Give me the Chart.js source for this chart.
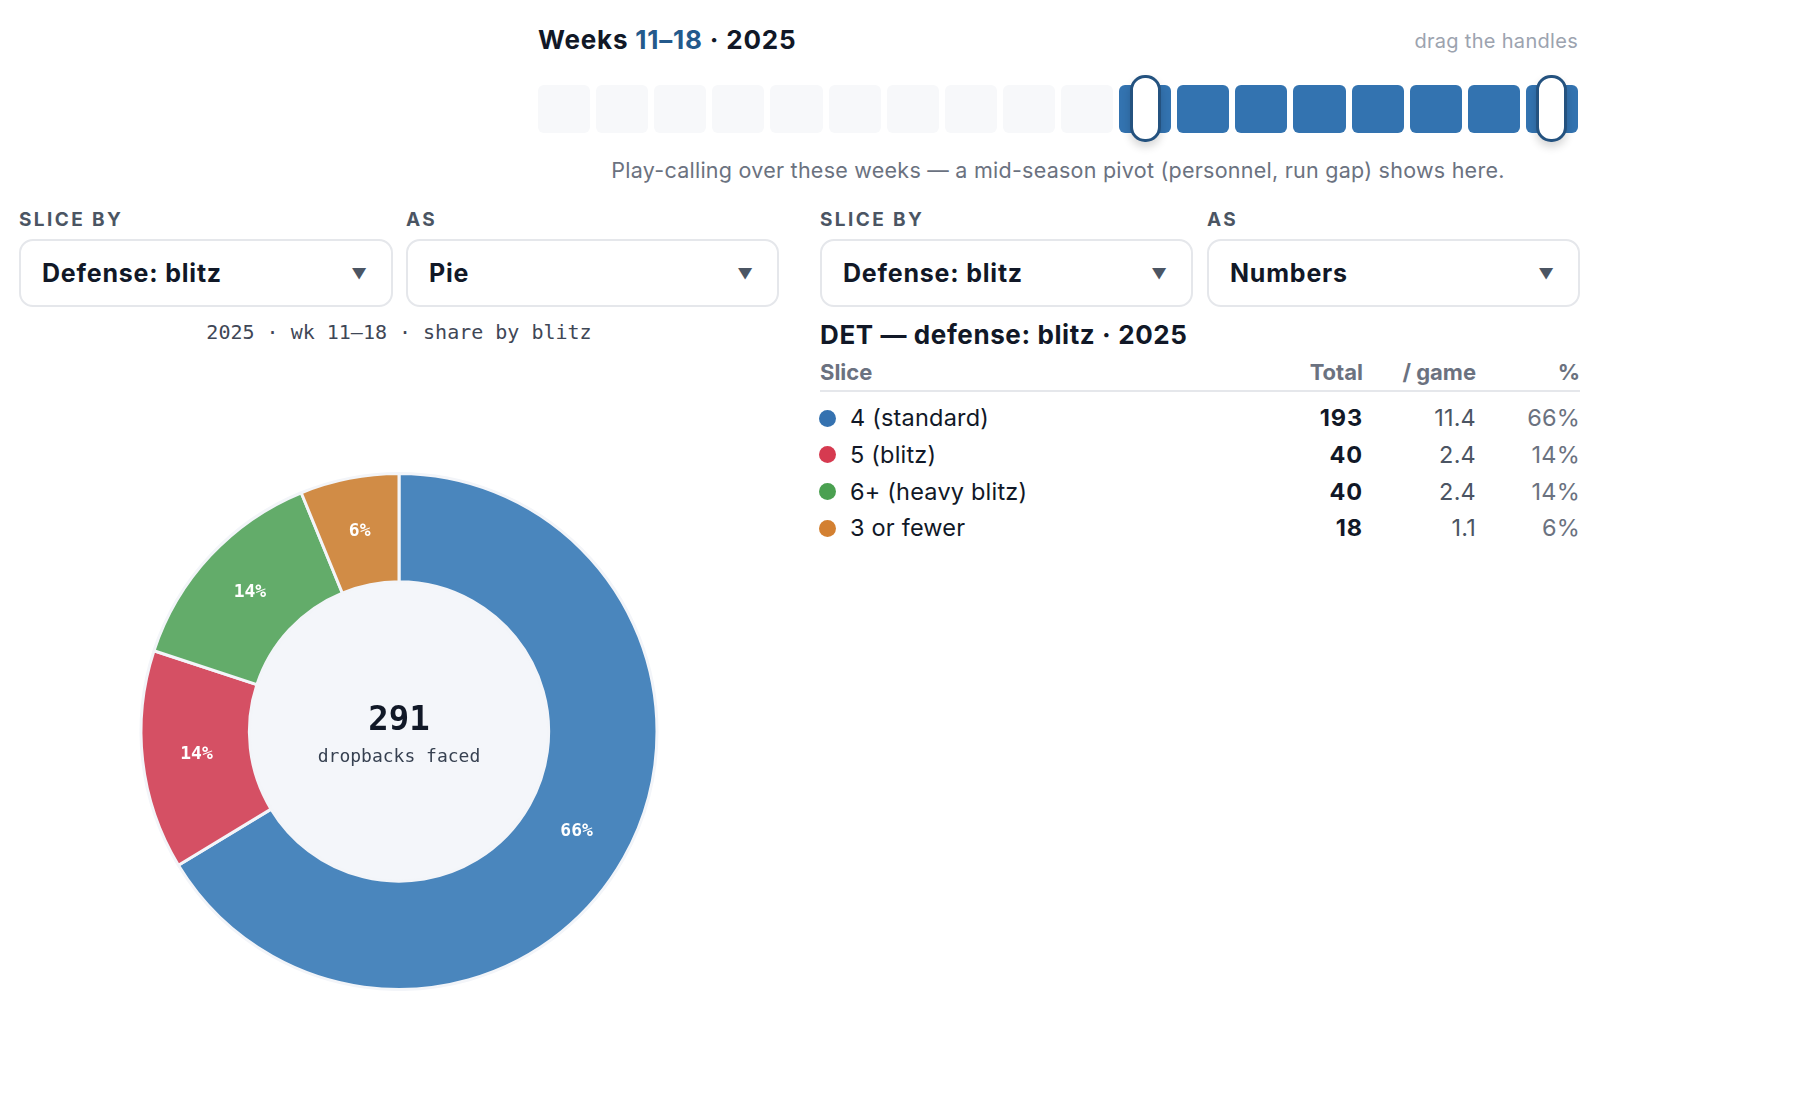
<!DOCTYPE html>
<html><head><meta charset="utf-8">
<script src="https://cdn.jsdelivr.net/npm/chart.js@4.4.1/dist/chart.umd.min.js"></script>
<style>
html,body{margin:0;padding:0;background:#fff;width:1794px;height:1108px;overflow:hidden;font-family:Inter,"Noto Sans",sans-serif;}
.abs{position:absolute;white-space:nowrap;}
#title{left:538px;top:26.5px;font:700 26px/26px Inter,sans-serif;letter-spacing:0.8px;color:#111827;}
#title .hl{color:#245a8c;}
#drag{right:216px;top:31px;font:400 20px/20px Inter,sans-serif;letter-spacing:0.3px;color:#9ca3af;}
#tiles{left:538px;top:85px;width:1040px;height:48px;display:flex;gap:6px;}
.tile{flex:1;border-radius:6px;background:#f7f8fa;}
.tile.on{background:#3373b0;}
.handle{position:absolute;top:75px;width:31px;height:67px;box-sizing:border-box;border:3.5px solid #24527f;border-radius:15px;background:#fff;box-shadow:0 5px 9px rgba(0,0,0,0.16);}
#caption{left:538px;width:1040px;text-align:center;top:159.5px;font:400 21.5px/21.5px Inter,sans-serif;letter-spacing:0.25px;color:#6b7280;}
.lab{top:209.5px;font:700 19px/19px Inter,sans-serif;letter-spacing:2.4px;color:#4b5563;}
.sel{top:239px;height:68px;box-sizing:border-box;border:2px solid #e5e7eb;border-radius:14px;font:700 25px/25px Inter,sans-serif;letter-spacing:0.8px;color:#111827;display:flex;align-items:center;padding-left:21px;}
.sel .arr{position:absolute;right:24px;top:50%;transform:translateY(-50%);font-size:15px;letter-spacing:0;color:#4b5563;}
#sub{left:19px;width:760px;text-align:center;top:322px;font:400 20px/20px "DejaVu Sans Mono",monospace;color:#3f4756;}
#chartbox{position:absolute;left:19px;top:472px;width:760px;height:519px;}
#ttitle{left:820px;top:322px;font:700 26px/26px Inter,sans-serif;letter-spacing:0.6px;color:#111827;}
.hdr{top:361px;font:700 22px/22px Inter,sans-serif;color:#6b7280;}
#hline{position:absolute;left:820px;top:390px;width:760px;height:2px;background:#e5e7eb;}
.cell{font:400 23.5px/23.5px Inter,sans-serif;letter-spacing:0.2px;}
.dot{position:absolute;width:17px;height:17px;border-radius:50%;}
</style></head><body>
<div id="title" class="abs">Weeks <span class="hl">11–18</span> · 2025</div>
<div id="drag" class="abs">drag the handles</div>
<div id="tiles" class="abs"></div>
<div id="caption" class="abs">Play-calling over these weeks — a mid-season pivot (personnel, run gap) shows here.</div>

<div class="abs lab" style="left:19px">SLICE BY</div>
<div class="abs lab" style="left:406px">AS</div>
<div class="abs lab" style="left:820px">SLICE BY</div>
<div class="abs lab" style="left:1207px">AS</div>

<div class="abs sel" style="left:19px;width:374px">Defense: blitz<span class="arr">▼</span></div>
<div class="abs sel" style="left:406px;width:373px">Pie<span class="arr">▼</span></div>
<div class="abs sel" style="left:820px;width:373px">Defense: blitz<span class="arr">▼</span></div>
<div class="abs sel" style="left:1207px;width:373px">Numbers<span class="arr">▼</span></div>

<div id="sub" class="abs">2025 · wk 11–18 · share by blitz</div>
<div id="chartbox"><canvas id="c"></canvas></div>

<div id="ttitle" class="abs">DET — defense: blitz · 2025</div>
<div class="abs hdr" style="left:820px">Slice</div>
<div class="abs hdr" style="right:431px">Total</div>
<div class="abs hdr" style="right:318px">/ game</div>
<div class="abs hdr" style="right:214px">%</div>
<div id="hline"></div>
<div id="rows"></div>

<script>
// ---- data ----
const weeks = [1,2,3,4,5,6,7,8,9,10,11,12,13,14,15,16,17,18];
const weekStart = 11;
const weekEnd = 18;
const categories = ["4 (standard)", "5 (blitz)", "6+ (heavy blitz)", "3 or fewer"];
const totals = [193, 40, 40, 18];
const perGame = ["11.4", "2.4", "2.4", "1.1"];
const pctLabels = [66, 14, 14, 6];
const centerTotal = 291;
const centerLabel = "dropbacks faced";
const pieColors = ["#4a86bd", "#d55064", "#63ac6a", "#d18c46"];
const dotColors = ["#3572b0", "#d63a50", "#4aa050", "#d38031"];

// ---- slider ----
const tilesEl = document.getElementById('tiles');
weeks.forEach(w => {
  const t = document.createElement('div');
  t.className = 'tile' + (w >= weekStart && w <= weekEnd ? ' on' : '');
  tilesEl.appendChild(t);
});
const pitch = (1040 + 6) / weeks.length;
[weekStart, weekEnd].forEach(w => {
  const h = document.createElement('div');
  h.className = 'handle';
  const cx = 538 + (w - 1) * pitch + (pitch - 6) / 2;
  h.style.left = (cx - 15.5) + 'px';
  document.body.appendChild(h);
});

// ---- table ----
const rowsEl = document.getElementById('rows');
categories.forEach((c, i) => {
  const cy = 418 + i * 36.7;
  const top = cy - 11.75;
  const dot = document.createElement('div');
  dot.className = 'dot';
  dot.style.left = '819px'; dot.style.top = (cy - 8.5) + 'px';
  dot.style.background = dotColors[i];
  rowsEl.appendChild(dot);
  const mk = (txt, style) => {
    const d = document.createElement('div');
    d.className = 'abs cell';
    d.textContent = txt;
    d.style.cssText += style + ';top:' + top + 'px';
    rowsEl.appendChild(d);
  };
  mk(c, 'left:850px;color:#111827');
  mk(String(totals[i]), 'right:431px;font-weight:700;letter-spacing:0.9px;color:#111827');
  mk(perGame[i], 'right:318px;color:#4b5563');
  mk(pctLabels[i] + '%', 'right:214px;color:#6b7280');
});

// ---- doughnut ----
const centerPlugin = {
  id: 'centerPlugin',
  beforeDatasetsDraw(chart) {
    const a = chart.getDatasetMeta(0).data[0];
    if (!a) return;
    const ctx = chart.ctx;
    ctx.save();
    ctx.beginPath();
    ctx.arc(a.x, a.y, a.innerRadius, 0, Math.PI * 2);
    ctx.fillStyle = '#f4f6fa';
    ctx.fill();
    ctx.restore();
  },
  afterDatasetsDraw(chart) {
    const meta = chart.getDatasetMeta(0);
    const ctx = chart.ctx;
    ctx.save();
    ctx.textAlign = 'center';
    ctx.textBaseline = 'middle';
    ctx.fillStyle = '#ffffff';
    ctx.font = 'bold 18px "DejaVu Sans Mono", monospace';
    meta.data.forEach((arc, i) => {
      const p = arc.tooltipPosition(true);
      ctx.fillText(pctLabels[i] + '%', p.x, p.y);
    });
    const a = meta.data[0];
    ctx.fillStyle = '#111827';
    ctx.font = 'bold 34px "DejaVu Sans Mono", monospace';
    ctx.fillText(String(centerTotal), a.x, a.y - 10);
    ctx.fillStyle = '#374151';
    ctx.font = '18px "DejaVu Sans Mono", monospace';
    ctx.fillText(centerLabel, a.x, a.y + 26);
    ctx.restore();
  }
};

new Chart(document.getElementById('c'), {
  type: 'doughnut',
  data: {
    labels: categories,
    datasets: [{
      data: totals,
      backgroundColor: pieColors,
      borderColor: '#f3f5f9',
      borderWidth: 3,
      hoverOffset: 0
    }]
  },
  options: {
    responsive: true,
    maintainAspectRatio: false,
    animation: false,
    cutout: '58%',
    layout: { padding: 0 },
    plugins: { legend: { display: false }, tooltip: { enabled: false } }
  },
  plugins: [centerPlugin]
});
</script>
</body></html>
